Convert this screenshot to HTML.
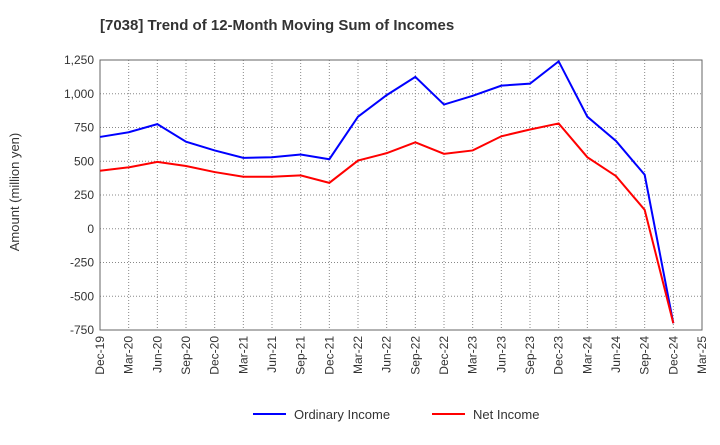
<!DOCTYPE html>
<html><head><meta charset="utf-8"><style>
body{margin:0;background:#fff;font-family:"Liberation Sans",sans-serif;}
</style></head><body>
<svg id="chart" width="720" height="440" xmlns="http://www.w3.org/2000/svg" font-family="Liberation Sans, sans-serif">
<text x="100" y="30" font-size="15" font-weight="bold" fill="#333">[7038]  Trend of 12-Month Moving Sum of Incomes</text>
<text transform="translate(19,192) rotate(-90)" text-anchor="middle" font-size="13" fill="#333">Amount (million yen)</text>
<g id="grid"></g><g id="axes"></g><g id="series"></g>
<g>
<line x1="253" y1="414" x2="286" y2="414" stroke="#0000ff" stroke-width="2"/>
<text x="294" y="419" font-size="13" fill="#333">Ordinary Income</text>
<line x1="432" y1="414" x2="465" y2="414" stroke="#ff0000" stroke-width="2"/>
<text x="473" y="419" font-size="13" fill="#333">Net Income</text>
</g>
</svg>
<script>
const categories=["Dec-19","Mar-20","Jun-20","Sep-20","Dec-20","Mar-21","Jun-21","Sep-21","Dec-21","Mar-22","Jun-22","Sep-22","Dec-22","Mar-23","Jun-23","Sep-23","Dec-23","Mar-24","Jun-24","Sep-24","Dec-24","Mar-25"];
const ordinaryIncome=[680,715,775,645,580,525,530,550,515,830,990,1125,920,985,1060,1075,1240,830,650,400,-700];
const netIncome=[430,455,495,465,420,385,385,395,340,505,560,640,555,580,685,735,780,530,390,140,-700];
const yTicks=[1250,1000,750,500,250,0,-250,-500,-750];
const NS="http://www.w3.org/2000/svg";
const L=100,R=702,T=60,B=330,yMin=-750,yMax=1250;
const x=i=>L+i*(R-L)/(categories.length-1);
const y=v=>B-(v-yMin)*(B-T)/(yMax-yMin);
function mk(tag,attrs,parent){const e=document.createElementNS(NS,tag);for(const k in attrs)e.setAttribute(k,attrs[k]);parent.appendChild(e);return e;}
const grid=document.getElementById('grid'),axes=document.getElementById('axes'),series=document.getElementById('series');
yTicks.forEach(v=>{
 const g=mk('line',{x1:L,x2:R,y1:y(v),y2:y(v),stroke:'#888','stroke-dasharray':'1,2','stroke-width':1},grid);
 
 
 const t=mk('text',{x:L-6,y:y(v)+4,'text-anchor':'end','font-size':12,fill:'#333'},axes);
 t.textContent=v.toLocaleString('en-US');
 
 
});
categories.forEach((c,i)=>{
 const g=mk('line',{x1:x(i),x2:x(i),y1:T,y2:B,stroke:'#888','stroke-dasharray':'1,2','stroke-width':1},grid);
 
 
 const t=mk('text',{transform:`translate(${x(i)+4},${B+6}) rotate(-90)`,'text-anchor':'end','font-size':12,fill:'#333'},axes);
 t.textContent=c;
 
 
});
const frame=mk('rect',{x:L,y:T,width:R-L,height:B-T,fill:'none',stroke:'#666','stroke-width':1},axes);


function line(vals,color,name){
 const p=mk('polyline',{points:vals.map((v,i)=>x(i)+','+y(v)).join(' '),fill:'none',stroke:color,'stroke-width':2},series);
 
 
}
line(ordinaryIncome,'#0000ff','ordinary-income-line');
line(netIncome,'#ff0000','net-income-line');
</script>
</body></html>
